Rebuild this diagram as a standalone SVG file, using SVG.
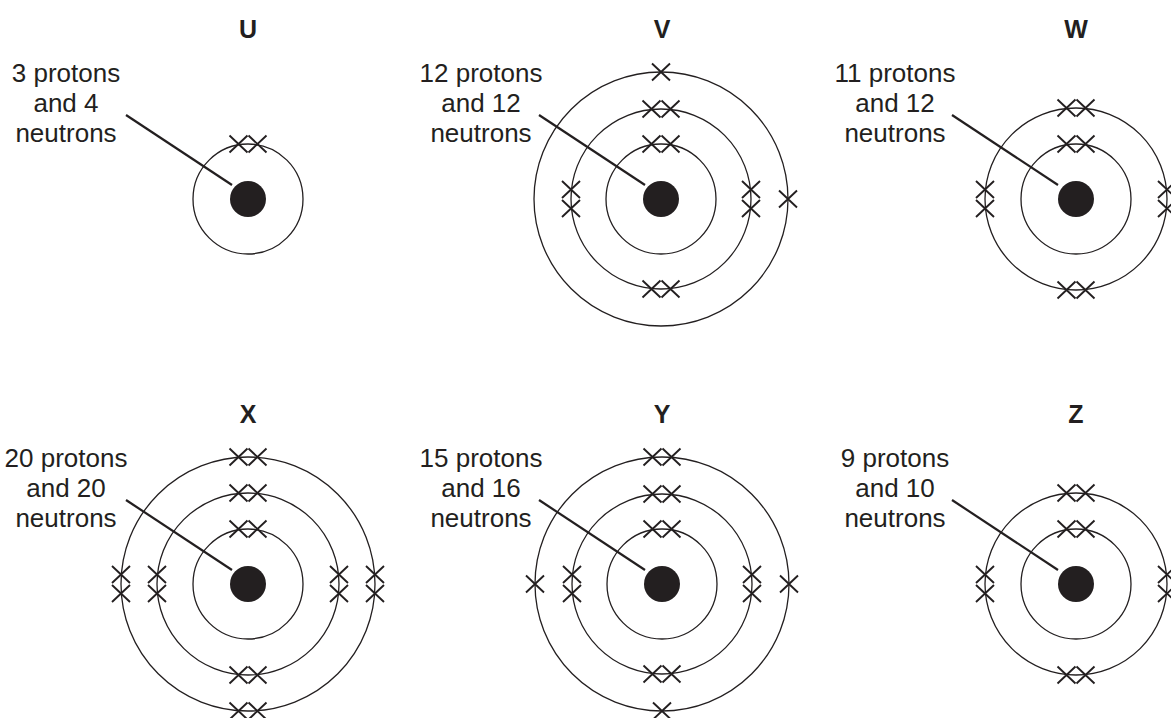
<svg xmlns="http://www.w3.org/2000/svg" xmlns:xlink="http://www.w3.org/1999/xlink" width="1171" height="718" viewBox="0 0 1171 718">
<style>
.shell{fill:none;stroke:#231f20;stroke-width:1.3}
.nuc{fill:#231f20}
.cr{fill:none;stroke:#231f20;stroke-width:1.9}
.lead{stroke:#231f20;stroke-width:2.2;fill:none}
.lbl{font-family:"Liberation Sans",Arial,sans-serif;font-size:26px;fill:#231f20;text-anchor:middle}
.ttl{font-family:"Liberation Sans",Arial,sans-serif;font-size:25px;font-weight:bold;fill:#231f20;text-anchor:middle}
</style>
<defs>
<path id="x" d="M-9,-8.5 L9,8.5 M-9,8.5 L9,-8.5"/>
</defs>
<rect width="1171" height="718" fill="#fff"/>

<g id="atom-U">
<text class="ttl" x="248" y="38">U</text>
<text class="lbl" x="66" y="82">3 protons</text>
<text class="lbl" x="66" y="112">and 4</text>
<text class="lbl" x="66" y="142">neutrons</text>
<circle class="shell" cx="248" cy="199" r="55"/>
<circle class="nuc" cx="248" cy="199" r="18"/>
<g class="cr">
<use xlink:href="#x" x="238.5" y="144"/><use xlink:href="#x" x="257.5" y="144"/>
</g>
</g>

<g id="atom-V">
<text class="ttl" x="662" y="38">V</text>
<text class="lbl" x="481" y="82">12 protons</text>
<text class="lbl" x="481" y="112">and 12</text>
<text class="lbl" x="481" y="142">neutrons</text>
<circle class="shell" cx="661" cy="199" r="55"/>
<circle class="shell" cx="661" cy="199" r="90"/>
<circle class="shell" cx="661" cy="199" r="127"/>
<circle class="nuc" cx="661" cy="199" r="18"/>
<g class="cr">
<use xlink:href="#x" x="661" y="72"/>
<use xlink:href="#x" x="651.5" y="109"/><use xlink:href="#x" x="670.5" y="109"/>
<use xlink:href="#x" x="651.5" y="144"/><use xlink:href="#x" x="670.5" y="144"/>
<use xlink:href="#x" x="571" y="189.5"/><use xlink:href="#x" x="571" y="208.5"/>
<use xlink:href="#x" x="751" y="189.5"/><use xlink:href="#x" x="751" y="208.5"/>
<use xlink:href="#x" x="788" y="199"/>
<use xlink:href="#x" x="651.5" y="289"/><use xlink:href="#x" x="670.5" y="289"/>
</g>
</g>

<g id="atom-W">
<text class="ttl" x="1076" y="38">W</text>
<text class="lbl" x="895" y="82">11 protons</text>
<text class="lbl" x="895" y="112">and 12</text>
<text class="lbl" x="895" y="142">neutrons</text>
<circle class="shell" cx="1076" cy="199" r="55"/>
<circle class="shell" cx="1076" cy="199" r="91"/>
<circle class="nuc" cx="1076" cy="199" r="18"/>
<g class="cr">
<use xlink:href="#x" x="1066.5" y="108"/><use xlink:href="#x" x="1085.5" y="108"/>
<use xlink:href="#x" x="1066.5" y="144"/><use xlink:href="#x" x="1085.5" y="144"/>
<use xlink:href="#x" x="985" y="189.5"/><use xlink:href="#x" x="985" y="208.5"/>
<use xlink:href="#x" x="1167" y="189.5"/><use xlink:href="#x" x="1167" y="208.5"/>
<use xlink:href="#x" x="1066.5" y="290"/><use xlink:href="#x" x="1085.5" y="290"/>
</g>
</g>

<g id="atom-X">
<text class="ttl" x="248" y="423">X</text>
<text class="lbl" x="66" y="467">20 protons</text>
<text class="lbl" x="66" y="497">and 20</text>
<text class="lbl" x="66" y="527">neutrons</text>
<circle class="shell" cx="248" cy="584" r="55"/>
<circle class="shell" cx="248" cy="584" r="91"/>
<circle class="shell" cx="248" cy="584" r="127"/>
<circle class="nuc" cx="248" cy="584" r="18"/>
<g class="cr">
<use xlink:href="#x" x="238.5" y="457"/><use xlink:href="#x" x="257.5" y="457"/>
<use xlink:href="#x" x="238.5" y="493"/><use xlink:href="#x" x="257.5" y="493"/>
<use xlink:href="#x" x="238.5" y="529"/><use xlink:href="#x" x="257.5" y="529"/>
<use xlink:href="#x" x="121" y="574.5"/><use xlink:href="#x" x="121" y="593.5"/>
<use xlink:href="#x" x="157" y="574.5"/><use xlink:href="#x" x="157" y="593.5"/>
<use xlink:href="#x" x="339" y="574.5"/><use xlink:href="#x" x="339" y="593.5"/>
<use xlink:href="#x" x="375" y="574.5"/><use xlink:href="#x" x="375" y="593.5"/>
<use xlink:href="#x" x="238.5" y="675"/><use xlink:href="#x" x="257.5" y="675"/>
<use xlink:href="#x" x="238.5" y="711"/><use xlink:href="#x" x="257.5" y="711"/>
</g>
</g>

<g id="atom-Y">
<text class="ttl" x="662" y="423">Y</text>
<text class="lbl" x="481" y="467">15 protons</text>
<text class="lbl" x="481" y="497">and 16</text>
<text class="lbl" x="481" y="527">neutrons</text>
<circle class="shell" cx="662" cy="584" r="55"/>
<circle class="shell" cx="662" cy="584" r="90"/>
<circle class="shell" cx="662" cy="584" r="127"/>
<circle class="nuc" cx="662" cy="584" r="18"/>
<g class="cr">
<use xlink:href="#x" x="652.5" y="457"/><use xlink:href="#x" x="671.5" y="457"/>
<use xlink:href="#x" x="652.5" y="494"/><use xlink:href="#x" x="671.5" y="494"/>
<use xlink:href="#x" x="652.5" y="529"/><use xlink:href="#x" x="671.5" y="529"/>
<use xlink:href="#x" x="535" y="584"/>
<use xlink:href="#x" x="572" y="574.5"/><use xlink:href="#x" x="572" y="593.5"/>
<use xlink:href="#x" x="752" y="574.5"/><use xlink:href="#x" x="752" y="593.5"/>
<use xlink:href="#x" x="789" y="584"/>
<use xlink:href="#x" x="652.5" y="674"/><use xlink:href="#x" x="671.5" y="674"/>
<use xlink:href="#x" x="662" y="711"/>
</g>
</g>

<g id="atom-Z">
<text class="ttl" x="1076" y="423">Z</text>
<text class="lbl" x="895" y="467">9 protons</text>
<text class="lbl" x="895" y="497">and 10</text>
<text class="lbl" x="895" y="527">neutrons</text>
<circle class="shell" cx="1076" cy="584" r="55"/>
<circle class="shell" cx="1076" cy="584" r="91"/>
<circle class="nuc" cx="1076" cy="584" r="18"/>
<g class="cr">
<use xlink:href="#x" x="1066.5" y="493"/><use xlink:href="#x" x="1085.5" y="493"/>
<use xlink:href="#x" x="1066.5" y="529"/><use xlink:href="#x" x="1085.5" y="529"/>
<use xlink:href="#x" x="985" y="574.5"/><use xlink:href="#x" x="985" y="593.5"/>
<use xlink:href="#x" x="1167" y="574.5"/><use xlink:href="#x" x="1167" y="593.5"/>
<use xlink:href="#x" x="1066.5" y="675"/><use xlink:href="#x" x="1085.5" y="675"/>
</g>
</g>

<g id="connectors" class="lead">
<line x1="126" y1="115" x2="232" y2="185"/>
<line x1="539" y1="115" x2="645" y2="185"/>
<line x1="952" y1="115" x2="1058" y2="185"/>
<line x1="126" y1="500" x2="232" y2="570"/>
<line x1="539" y1="500" x2="645" y2="570"/>
<line x1="952" y1="500" x2="1058" y2="570"/>
</g>
</svg>
